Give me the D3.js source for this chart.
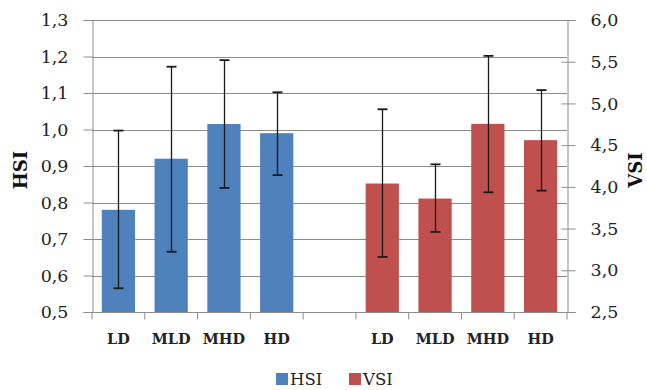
<!DOCTYPE html>
<html><head><meta charset="utf-8">
<script src="https://cdn.jsdelivr.net/npm/d3@7"></script>
<style>body{margin:0;background:#fff}svg{display:block}text{font-family:"DejaVu Serif",serif}</style>
</head><body><svg id="c" width="647" height="390"></svg>
<script>
const categories = ["LD","MLD","MHD","HD","","LD","MLD","MHD","HD"];
const hsiValues = [0.78, 0.92, 1.015, 0.99];
const hsiErrLow = [0.565, 0.665, 0.84, 0.875];
const hsiErrHigh = [0.997, 1.172, 1.19, 1.102];
const vsiValues = [4.04, 3.86, 4.755, 4.56];
const vsiErrLow = [3.16, 3.46, 3.935, 3.955];
const vsiErrHigh = [4.93, 4.27, 5.57, 5.16];
const leftTicks = [0.5,0.6,0.7,0.8,0.9,1.0,1.1,1.2,1.3];
const rightTicks = [2.5,3.0,3.5,4.0,4.5,5.0,5.5,6.0];
const seriesNames = ["HSI","VSI"];
const colors = ["#4F81BD","#C0504D"];

const svg = d3.select("#c");
const L = 92, R = 567, T = 20, B = 312;
const x = d3.scaleBand().domain(d3.range(categories.length)).range([L,R]).paddingInner(0.37).paddingOuter(0.185);
const slot = d3.scaleBand().domain(d3.range(categories.length)).range([L,R]);
const yL = d3.scaleLinear().domain([0.5,1.3]).range([B,T]);
const yR = d3.scaleLinear().domain([2.5,6.0]).range([B,T]);
const fmt = d => d3.format(".1f")(d).replace(".", ",");

// gridlines
svg.append("g").selectAll("line").data(leftTicks).join("line")
  .attr("x1", L).attr("x2", R).attr("y1", d=>Math.round(yL(d))+0.5).attr("y2", d=>Math.round(yL(d))+0.5)
  .attr("stroke","#8c8c8c").attr("stroke-width",1);

// left axis
const ga = svg.append("g").attr("transform",`translate(${L+0.5},0)`)
  .call(d3.axisLeft(yL).tickValues(leftTicks).tickFormat(fmt).tickSize(9).tickPadding(15));
ga.select(".domain").attr("stroke","#8c8c8c");
ga.selectAll(".tick line").attr("stroke","#8c8c8c");
ga.selectAll("text").attr("font-size",17.5).attr("fill","#222");

// right axis
const gr = svg.append("g").attr("transform",`translate(${R+0.5},0)`)
  .call(d3.axisRight(yR).tickValues(rightTicks).tickFormat(fmt).tickSize(8).tickPadding(15));
gr.select(".domain").attr("stroke","#8c8c8c");
gr.selectAll(".tick line").attr("stroke","#8c8c8c").attr("x1",-6);
gr.selectAll("text").attr("font-size",17.5).attr("fill","#222");

// bars
const hsiIdx = [0,1,2,3], vsiIdx = [5,6,7,8];
svg.append("g").selectAll("rect").data(hsiValues).join("rect")
  .attr("x",(d,i)=>x(hsiIdx[i])).attr("width",x.bandwidth())
  .attr("y",d=>yL(d)).attr("height",d=>B-yL(d)).attr("fill",colors[0]);
svg.append("g").selectAll("rect").data(vsiValues).join("rect")
  .attr("x",(d,i)=>x(vsiIdx[i])).attr("width",x.bandwidth())
  .attr("y",d=>yR(d)).attr("height",d=>B-yR(d)).attr("fill",colors[1]);

// x axis
const gx = svg.append("g").attr("transform",`translate(0,${B+0.5})`);
gx.append("line").attr("x1",L).attr("x2",R).attr("stroke","#8c8c8c");
gx.selectAll(".tk").data(d3.range(categories.length+1)).join("line").attr("class","tk")
  .attr("x1",i=>i<categories.length?slot(i):R).attr("x2",i=>i<categories.length?slot(i):R)
  .attr("y1",0).attr("y2",7).attr("stroke","#8c8c8c");
gx.selectAll("text").data(categories).join("text")
  .attr("x",(d,i)=>slot(i)+slot.bandwidth()/2).attr("y",31)
  .attr("text-anchor","middle").attr("font-size",14.5).attr("font-weight","bold").attr("fill","#222").text(d=>d);

// error bars
function errs(idx, lo, hi, y){
  const g = svg.append("g").attr("stroke","#1a1a1a").attr("stroke-width",1.3);
  idx.forEach((c,i)=>{
    const cx = Math.round(x(c)+x.bandwidth()/2)+0.5;
    g.append("line").attr("x1",cx).attr("x2",cx).attr("y1",y(hi[i])).attr("y2",y(lo[i]));
    [lo[i],hi[i]].forEach(v=>g.append("line").attr("x1",cx-5).attr("x2",cx+5).attr("y1",y(v)).attr("y2",y(v)).attr("stroke-width",1.8));
  });
}
errs(hsiIdx, hsiErrLow, hsiErrHigh, yL);
errs(vsiIdx, vsiErrLow, vsiErrHigh, yR);

// axis titles
svg.append("text").attr("transform","translate(27,170) rotate(-90)").attr("text-anchor","middle")
  .attr("font-size",18).attr("font-weight","bold").attr("fill","#111").text("HSI");
svg.append("text").attr("transform","translate(642,170) rotate(-90)").attr("text-anchor","middle")
  .attr("font-size",18).attr("font-weight","bold").attr("fill","#111").text("VSI");

// legend
const lg = svg.append("g");
const lx = [276, 349];
seriesNames.forEach((n,i)=>{
  lg.append("rect").attr("x",lx[i]).attr("y",373).attr("width",12).attr("height",12).attr("fill",colors[i]);
  lg.append("text").attr("x",lx[i]+14).attr("y",385).attr("font-size",16.5).attr("fill","#222").text(n);
});
</script></body></html>
